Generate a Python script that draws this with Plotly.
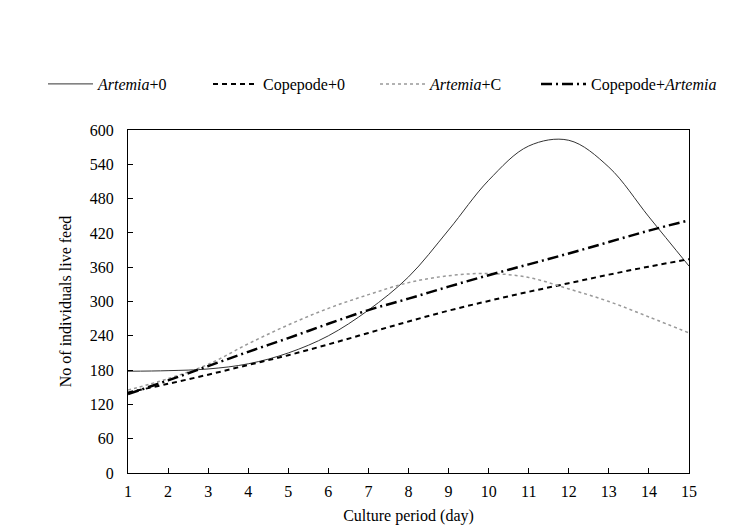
import plotly.graph_objects as go

days = list(range(1, 16))
artemia_0 = [178, 179, 182, 191, 210, 240, 285, 343, 425, 512, 572, 582, 535, 448, 362]
copepode_0 = [141, 156, 172, 189, 206, 225, 245, 265, 284, 301, 317, 332, 347, 361, 374]
artemia_c = [145, 165, 190, 226, 259, 288, 312, 333, 345, 349, 342, 322, 300, 273, 245]
copepode_artemia = [138, 162, 187, 212, 236, 261, 285, 305, 326, 346, 365, 384, 404, 424, 442]

series_names = ["<i>Artemia</i>+0", "Copepode+0", "<i>Artemia</i>+C", "Copepode+<i>Artemia</i>"]
x_ticks = list(range(1, 16))
y_ticks = list(range(0, 601, 60))

legend_ids = ["legend", "legend2", "legend3", "legend4"]
legend_text_x = [100, 265, 432, 593]

fig = go.Figure()
fig.add_trace(go.Scatter(x=days, y=artemia_0, name=series_names[0], mode="lines", legend=legend_ids[0],
                         line=dict(color="#333333", width=1, shape="spline", smoothing=1.0)))
fig.add_trace(go.Scatter(x=days, y=copepode_0, name=series_names[1], mode="lines", legend=legend_ids[1],
                         line=dict(color="black", width=2, dash="5px,4px", shape="spline")))
fig.add_trace(go.Scatter(x=days, y=artemia_c, name=series_names[2], mode="lines", legend=legend_ids[2],
                         line=dict(color="#999999", width=1.5, dash="dot", shape="spline")))
fig.add_trace(go.Scatter(x=days, y=copepode_artemia, name=series_names[3], mode="lines", legend=legend_ids[3],
                         line=dict(color="black", width=2.5, dash="11px,4px,2px,4px", shape="spline")))

font = dict(family="Liberation Serif", size=16, color="black")
tfont = dict(family="Liberation Serif", size=16, color="black")

W, H = 735, 529
legends = {}
for lid, tx in zip(legend_ids, legend_text_x):
    legends[lid] = dict(orientation="h", xref="container", yref="container",
                        x=(tx - 57) / W, y=1 - 84 / H, xanchor="left", yanchor="middle",
                        itemwidth=45, font=tfont, bgcolor="rgba(0,0,0,0)")

fig.update_layout(
    width=W, height=H,
    margin=dict(l=128, r=46, t=130, b=56),
    paper_bgcolor="white", plot_bgcolor="white",
    font=font,
    showlegend=True,
    **legends,
    xaxis=dict(range=[1, 15], tickvals=x_ticks, ticks="inside", ticklen=5, tickcolor="black",
               showline=True, linecolor="black", linewidth=1, mirror=True, showgrid=False,
               zeroline=False, ticklabelstandoff=4, tickfont=font, automargin=False,
               title=dict(text="Culture period (day)", standoff=10, font=tfont)),
    yaxis=dict(range=[0, 600], tickvals=y_ticks, ticks="inside", ticklen=5, tickcolor="black",
               showline=True, linecolor="black", linewidth=1, mirror=True, showgrid=False,
               zeroline=False, ticklabelstandoff=10, tickfont=font, automargin=False,
               title=dict(text="No of individuals live feed", standoff=14, font=tfont)),
)

fig.write_html("out.html")
